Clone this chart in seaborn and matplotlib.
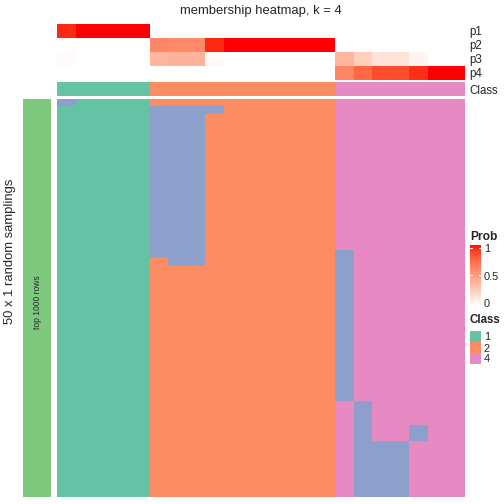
import numpy as np
import matplotlib
matplotlib.use("Agg")
import matplotlib.pyplot as plt
import seaborn as sns
from matplotlib.colors import ListedColormap, Normalize
from matplotlib.cm import ScalarMappable

sns.set_theme(style="white")
plt.rcParams["font.family"] = ["Liberation Sans", "DejaVu Sans"]

# === Data ===
sample_class = [1] * 5 + [2] * 10 + [4] * 7
p1 = [0.95, 1, 1, 1, 1] + [0] * 17
p2 = [0] * 5 + [0.62, 0.60, 0.60, 0.95, 1, 1, 1, 1, 1, 1] + [0] * 7
p3 = [0.02, 0, 0, 0, 0, 0.38, 0.40, 0.40, 0.03, 0, 0, 0, 0, 0, 0,
      0.38, 0.25, 0.15, 0.15, 0.06, 0, 0]
p4 = [0] * 15 + [0.62, 0.75, 0.85, 0.85, 0.94, 1, 1]
prob_names = ["p1", "p2", "p3", "p4"]

# class of each of the 50 samplings, per column, as (class, n_rows) runs
column_runs = (
    [[(3, 1), (1, 49)]]
    + [[(1, 50)]] * 4
    + [[(2, 1), (3, 19), (2, 30)]]
    + [[(2, 1), (3, 20), (2, 29)]] * 2
    + [[(2, 1), (3, 1), (2, 48)]]
    + [[(2, 50)]] * 6
    + [[(4, 19), (3, 19), (4, 12)]]
    + [[(4, 38), (3, 12)]]
    + [[(4, 43), (3, 7)]] * 2
    + [[(4, 41), (3, 2), (4, 7)]]
    + [[(4, 50)]] * 2
)
legend_classes = [1, 2, 4]

class_colors = ["#66C2A5", "#FC8D62", "#8DA0CB", "#E78AC3"]
class_cmap = ListedColormap(class_colors)

membership = np.column_stack(
    [np.concatenate([[c] * n for c, n in runs]) for runs in column_runs]
)


# white -> red ramp interpolated in LAB space (like colorRamp2)
M = np.array([[0.4124, 0.3576, 0.1805],
              [0.2126, 0.7152, 0.0722],
              [0.0193, 0.1192, 0.9505]])
WHITE = np.array([0.95047, 1.0, 1.08883])


def to_lab(rgb):
    rgb = np.asarray(rgb, float)
    lin = np.where(rgb <= 0.04045, rgb / 12.92, ((rgb + 0.055) / 1.055) ** 2.4)
    xyz = M @ lin / WHITE
    f = np.where(xyz > 0.008856, np.cbrt(xyz), 7.787 * xyz + 16 / 116)
    return np.array([116 * f[1] - 16, 500 * (f[0] - f[1]), 200 * (f[1] - f[2])])


def from_lab(lab):
    L, a, b = lab
    fy = (L + 16) / 116
    f = np.array([fy + a / 500, fy, fy - b / 200])
    xyz = np.where(f ** 3 > 0.008856, f ** 3, (f - 16 / 116) / 7.787) * WHITE
    lin = np.linalg.solve(M, xyz)
    lin = np.clip(lin, 0, 1)
    rgb = np.where(lin <= 0.0031308, 12.92 * lin, 1.055 * lin ** (1 / 2.4) - 0.055)
    return np.clip(rgb, 0, 1)


lab0, lab1 = to_lab([1, 1, 1]), to_lab([1, 0, 0])
prob_cmap = ListedColormap([from_lab(lab0 + t * (lab1 - lab0)) for t in np.linspace(0, 1, 256)])

# === Figure ===
W = H = 504
fig = plt.figure(figsize=(7, 7), dpi=72)


def px_axes(x0, y0, x1, y1):
    return fig.add_axes([x0 / W, 1 - y1 / H, (x1 - x0) / W, (y1 - y0) / H])


# top annotation: probabilities
ax_p = px_axes(57, 24, 465, 80)
sns.heatmap(np.array([p1, p2, p3, p4]), ax=ax_p, cmap=prob_cmap, vmin=0, vmax=1,
            cbar=False, xticklabels=False, yticklabels=prob_names)
ax_p.yaxis.tick_right()
ax_p.tick_params(axis="y", length=0, pad=4, labelsize=11.5, labelrotation=0)

# top annotation: class
ax_c = px_axes(57, 82, 465, 96)
sns.heatmap(np.array([sample_class]), ax=ax_c, cmap=class_cmap, vmin=0.5, vmax=4.5,
            cbar=False, xticklabels=False, yticklabels=["Class"])
ax_c.yaxis.tick_right()
ax_c.tick_params(axis="y", length=0, pad=4, labelsize=11.5, labelrotation=0)

# main membership heatmap
ax_m = px_axes(57, 98.5, 465, 497)
sns.heatmap(membership, ax=ax_m, cmap=class_cmap, vmin=0.5, vmax=4.5,
            cbar=False, xticklabels=False, yticklabels=False)

# left row-split bar
ax_g = px_axes(23, 98.5, 51, 497)
ax_g.set_facecolor("#7FC97F")
ax_g.set_xticks([])
ax_g.set_yticks([])
for sp in ax_g.spines.values():
    sp.set_visible(False)
ax_g.text(0.5, 0.49, "top 1000 rows", rotation=90, ha="center", va="center",
          fontsize=8.5, transform=ax_g.transAxes)

fig.text(10 / W, 1 - 251 / H, "50 x 1 random samplings", rotation=90,
         ha="center", va="center", fontsize=13)
fig.text(261 / W, 1 - 11 / H, "membership heatmap, k = 4", ha="center",
         va="center", fontsize=13)

# legend: Prob
fig.text(470 / W, 1 - 237 / H, "Prob", fontsize=12, fontweight="bold",
         ha="left", va="center")
cax = px_axes(470, 245, 481, 306)
cb = fig.colorbar(ScalarMappable(norm=Normalize(-0.06, 1.06), cmap=prob_cmap), cax=cax,
                  ticks=[0, 0.5, 1])
cb.outline.set_visible(False)
cb.ax.set_yticklabels(["0", "0.5", "1"])
cax.tick_params(length=0, pad=3, labelsize=11)
for v in [0.5, 1]:
    cax.axhline(v, xmin=0, xmax=0.2, color="white", lw=1)
    cax.axhline(v, xmin=0.8, xmax=1, color="white", lw=1)

# legend: Class
fig.text(470 / W, 1 - 320 / H, "Class", fontsize=11.5, fontweight="bold",
         ha="left", va="center")
ax_l = px_axes(470, 331, 481, 364)
sns.heatmap(np.array(legend_classes)[:, None], ax=ax_l, cmap=class_cmap, vmin=0.5,
            vmax=4.5, cbar=False, xticklabels=False,
            yticklabels=[str(c) for c in legend_classes])
ax_l.yaxis.tick_right()
ax_l.tick_params(axis="y", length=0, pad=3, labelsize=11, labelrotation=0)

fig.savefig("out.png", dpi=72)
